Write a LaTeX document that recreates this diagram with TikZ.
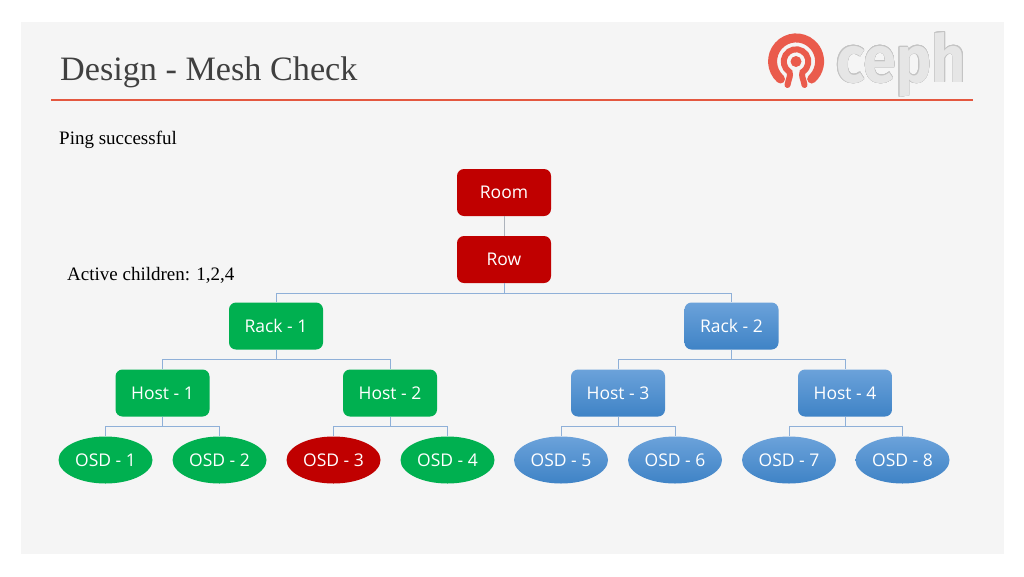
\documentclass[tikz,border=0pt]{standalone}
\usepackage{fontspec}
\usepackage{contour}
\setmainfont{Liberation Serif}
\newfontfamily\labelfont{Open Sans}
\newfontfamily\logofont{Fira Sans}
\usetikzlibrary{arrows.meta}
\usetikzlibrary{positioning}
\usetikzlibrary{shapes.geometric}
\definecolor{panelgray}{HTML}{F5F5F5}
\definecolor{cephred}{HTML}{E4573F}
\definecolor{logored}{HTML}{EA5B4C}
\definecolor{linkblue}{HTML}{8FB0D8}
\definecolor{linkgray}{HTML}{ADB3BC}
\definecolor{okgreen}{HTML}{00B050}
\definecolor{failred}{HTML}{C00000}
\definecolor{titlegray}{HTML}{404040}
\definecolor{bluetop}{HTML}{6BA2DA}
\definecolor{bluebottom}{HTML}{3F83C6}
\definecolor{logofill}{HTML}{E6E6E6}
\definecolor{logoedge}{HTML}{C4C4C4}
\tikzset{unit/.style={draw=none,text=white,inner sep=0pt,minimum width=94pt,minimum height=47pt,
           font=\labelfont\fontsize{17.5}{20}\selectfont},
         box/.style={unit,rectangle,rounded corners=7pt},
         osd/.style={unit,ellipse},
         alive/.style={fill=okgreen},
         failed/.style={fill=failred},
         idle/.style={top color=bluetop,bottom color=bluebottom},
         caption/.style={anchor=base west,inner sep=0pt,font=\fontsize{19}{23}\selectfont}}
\begin{document}
\begin{tikzpicture}[x=1pt,y=-1pt]
\useasboundingbox (0,0) rectangle (1024,576);
\fill[panelgray] (21,22) rectangle (1004,554);

% heading
\node[caption,text=titlegray,font=\fontsize{34.2}{40}\selectfont] (title) at (60,80) {Design - Mesh Check};
\coordinate (ruleL) at (51,100);
\coordinate (ruleR) at (973,100);
\draw[cephred,line width=2pt] (ruleL) -- (ruleR);

% logo
\begin{scope}[logored,line cap=round]
    \draw[line width=9pt] (780.5,79) arc[start angle=228.5,end angle=-48.5,radius=23.5pt];
    \draw[line width=6pt] (787.5,85) .. controls (788.5,79) and (791,76) .. (789.5,72)
        arc[start angle=238,end angle=-58,radius=12.3pt]
        .. controls (801,76) and (803.5,79) .. (804.5,85);
    \fill (796,61.5) circle[radius=5.5pt];
\end{scope}
\node[anchor=base west,inner sep=0pt,xscale=.9,text=logofill,font=\logofont\bfseries\fontsize{66}{70}\selectfont] (logo) at (836,82) {\contourlength{0.5pt}\contour{logoedge}{ceph}};

\node[caption] (ping) at (59,144) {Ping successful};
\node[caption] (active) at (67,280) {Active children: 1,2,4};

\begin{scope}
    \node[box,failed] (room) at (504,192.5) {Room};
    \node[box,failed] (row) at (504,259.5) {Row};
    \node[box,alive] (rack1) at (276,326) {Rack - 1};
    \node[box,idle] (rack2) at (731.5,326) {Rack - 2};
    \node[box,alive] (host1) at (162.5,393) {Host - 1};
    \node[box,alive] (host2) at (390,393) {Host - 2};
    \node[box,idle] (host3) at (618,393) {Host - 3};
    \node[box,idle] (host4) at (845,393) {Host - 4};
    \node[osd,alive] (osd1) at (105.5,460) {OSD - 1};
    \node[osd,alive] (osd2) at (219.5,460) {OSD - 2};
    \node[osd,failed] (osd3) at (333.5,460) {OSD - 3};
    \node[osd,alive] (osd4) at (447.5,460) {OSD - 4};
    \node[osd,idle] (osd5) at (561,460) {OSD - 5};
    \node[osd,idle] (osd6) at (675,460) {OSD - 6};
    \node[osd,idle] (osd7) at (789,460) {OSD - 7};
    \node[osd,idle] (osd8) at (902.5,460) {OSD - 8};
\end{scope}

\begin{scope}[every edge/.style={draw=linkblue,line width=1pt,
              to path={(\tikztostart.south) -- ++(0,10) -| (\tikztotarget.north)}}]
    \path [-] (row) edge (rack1);
    \path [-] (row) edge (rack2);
    \path [-] (rack1) edge (host1);
    \path [-] (rack1) edge (host2);
    \path [-] (rack2) edge (host3);
    \path [-] (rack2) edge (host4);
    \path [-] (host1) edge (osd1);
    \path [-] (host1) edge (osd2);
    \path [-] (host2) edge (osd3);
    \path [-] (host2) edge (osd4);
    \path [-] (host3) edge (osd5);
    \path [-] (host3) edge (osd6);
    \path [-] (host4) edge (osd7);
    \path [-] (host4) edge (osd8);
\end{scope}
\draw[linkgray,line width=1pt] (room) -- (row);
\end{tikzpicture}
\end{document}
